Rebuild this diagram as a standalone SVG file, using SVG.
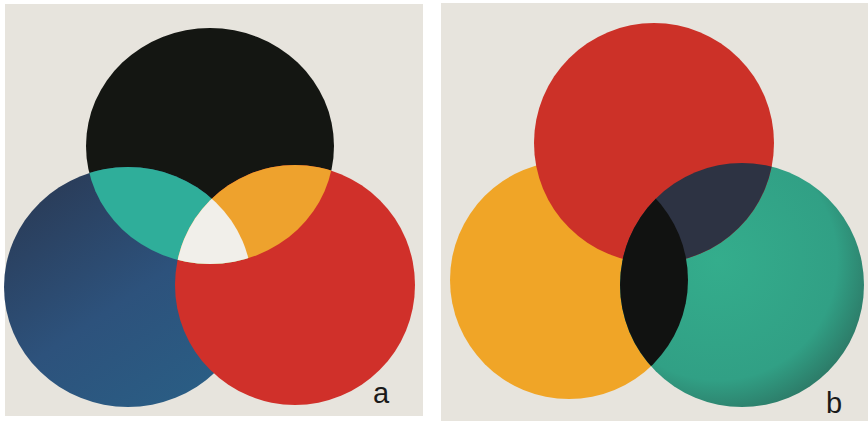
<svg xmlns="http://www.w3.org/2000/svg" width="868" height="421" viewBox="0 0 868 421">
  <defs>
    <style>
      .bg { fill: #e7e4dd; }
      .label { font-family: "Liberation Sans", "DejaVu Sans", sans-serif; font-size: 29px; fill: #1a1a1a; }
    </style>
    <linearGradient id="blueGrad" x1="0" y1="0" x2="0.7" y2="1">
      <stop offset="0" stop-color="#29364f"/>
      <stop offset="0.6" stop-color="#2d527c"/>
      <stop offset="1" stop-color="#2a5d84"/>
    </linearGradient>
    <radialGradient id="greenGrad" cx="0.4" cy="0.4" r="0.7">
      <stop offset="0" stop-color="#34ad8c"/>
      <stop offset="0.7" stop-color="#31a085"/>
      <stop offset="1" stop-color="#2b6d5d"/>
    </radialGradient>
    <clipPath id="clipBlackA"><ellipse cx="210" cy="146" rx="124" ry="118"/></clipPath>
    <clipPath id="clipBlueA"><ellipse cx="128" cy="287" rx="124" ry="120"/></clipPath>
    <clipPath id="clipRedB"><circle cx="654" cy="143" r="120"/></clipPath>
    <clipPath id="clipOrangeB"><circle cx="569" cy="280" r="119"/></clipPath>
  </defs>

  <rect x="0" y="0" width="868" height="421" fill="#ffffff"/>

  <!-- Panel a -->
  <g id="panel-a">
    <rect class="bg" x="5" y="4" width="418" height="412"/>
    <ellipse id="a-black" cx="210" cy="146" rx="124" ry="118" fill="#141612"/>
    <ellipse id="a-blue" cx="128" cy="287" rx="124" ry="120" fill="url(#blueGrad)"/>
    <circle id="a-red" cx="295" cy="285" r="120" fill="#d0302a"/>
    <g clip-path="url(#clipBlackA)">
      <ellipse id="a-teal" cx="128" cy="287" rx="124" ry="120" fill="#2fae9a"/>
    </g>
    <g clip-path="url(#clipBlackA)">
      <circle id="a-orange" cx="295" cy="285" r="120" fill="#eea22d"/>
    </g>
    <g clip-path="url(#clipBlackA)">
      <g clip-path="url(#clipBlueA)">
        <circle id="a-white" cx="295" cy="285" r="120" fill="#f1efea"/>
      </g>
    </g>
    <text class="label" x="373" y="403">a</text>
  </g>

  <!-- Panel b -->
  <g id="panel-b">
    <rect class="bg" x="441" y="3" width="427" height="418"/>
    <circle id="b-orange" cx="569" cy="280" r="119" fill="#f0a527"/>
    <circle id="b-green" cx="742" cy="285" r="122" fill="url(#greenGrad)"/>
    <circle id="b-red" cx="654" cy="143" r="120" fill="#cc3128"/>
    <g clip-path="url(#clipRedB)">
      <circle id="b-navy" cx="742" cy="285" r="122" fill="#2d3343"/>
    </g>
    <g clip-path="url(#clipOrangeB)">
      <circle id="b-black" cx="742" cy="285" r="122" fill="#111211"/>
    </g>
    <text class="label" x="826" y="413">b</text>
  </g>
</svg>
